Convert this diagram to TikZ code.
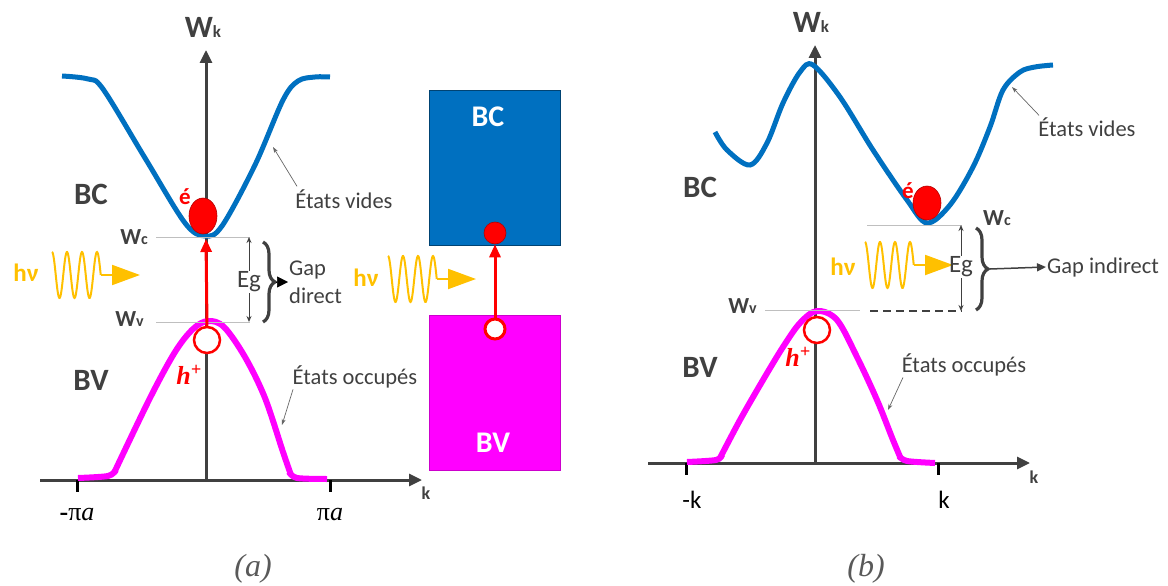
\documentclass[tikz,border=0pt]{standalone}
\usepackage{fontspec}
\setmainfont{Carlito}
\newfontfamily\serifgr{Liberation Serif}
\usetikzlibrary{arrows.meta,positioning,shapes.geometric,decorations.pathreplacing}
\definecolor{cAxis}{HTML}{404040}
\definecolor{cBC}  {HTML}{0070C0}
\definecolor{cBV}  {HTML}{FF00FF}
\definecolor{cRed} {HTML}{FF0000}
\definecolor{cPhot}{HTML}{FFC000}
\definecolor{cLvl} {HTML}{BFBFBF}
\newcommand\fsz[1]{\fontsize{#1}{#1}\selectfont}
\tikzset{
  axis/.style  ={draw=cAxis,line width=3pt,-{Triangle[length=13pt,width=12pt]}},
  tck/.style   ={draw=black,line width=3pt},
  bandc/.style ={draw=cBC,line width=5pt},
  bandv/.style ={draw=cBV,line width=6pt},
  lvl/.style   ={draw=cLvl,line width=1pt},
  elec/.style  ={ellipse,fill=cRed,draw=cRed!70!black,line width=0.6pt,
                 minimum width=28pt,minimum height=36pt,inner sep=0pt},
  hole/.style  ={circle,fill=white,draw=cRed,line width=2.5pt,
                 minimum size=26pt,inner sep=0pt},
  exc/.style   ={draw=cRed,line width=3pt,-{Triangle[length=13pt,width=11pt]}},
  ptr/.style   ={draw=black!60,line width=0.7pt,-{Stealth[length=6pt,width=4pt]}},
  egarr/.style ={draw=cAxis,line width=1pt,-{Stealth[length=6pt,width=5pt]}},
  brc/.style   ={draw=cAxis,line width=3.2pt,decorate,decoration={brace,amplitude=12pt}},
  phot/.style  ={draw=cPhot,line width=2pt},
  photarr/.style={draw=cPhot,line width=2pt,-{Triangle[length=28pt,width=20pt]}},
  txt/.style   ={text=cAxis,font=\fsz{22.5},inner sep=1pt},
  bnd/.style   ={text=cAxis,font=\fsz{31}\bfseries,inner sep=1pt},
  lev/.style   ={text=cAxis,font=\fsz{23}\bfseries,inner sep=1pt},
  hnu/.style   ={text=cPhot,font=\fsz{25}\bfseries,inner sep=1pt},
  eltxt/.style ={text=cRed,font=\fsz{23}\bfseries,inner sep=1pt},
  boxlbl/.style={text=white,font=\fsz{30}\bfseries,inner sep=1pt},
  figcap/.style={text=black!65,font=\serifgr\itshape\fsz{32},inner sep=1pt},
}
\begin{document}
\begin{tikzpicture}[x=1pt,y=-1pt]
\useasboundingbox (0,0) rectangle (1168,586);

% ---------- (a) direct gap ----------
\coordinate (kA0) at (40,480);  \coordinate (kA1) at (422,480);
\coordinate (oA)  at (206,480); \coordinate (wA)  at (206,50);
\draw[axis] (kA0) -- (kA1);
\draw[axis] (oA) -- (wA);
\node[text=cAxis,font=\fsz{18}\bfseries] (kA) at (426,493) {k};
\node[bnd] (wkA) at (203,27) {W{\fsz{17}k}};
\foreach \x/\t [count=\i] in {77/{{\bfseries -}π\itshape a},330/{π\itshape a}}
  {\coordinate (tA\i) at (\x,480);
   \draw[tck] (tA\i) -- ++(0,12);
   \node[text=black,font=\serifgr\fsz{26}] at (\x,515) {\t};}

\draw[bandc] plot[smooth,tension=0.55] coordinates {(62,76) (88,79) (103,89) (145,158)
  (185,223) (205,236) (222,226) (255,165) (283,100) (298,81) (315,77) (330,77)};
\draw[bandv] plot[smooth,tension=0.5] coordinates {(78,478) (108,476) (116,470)};
\draw[bandv] plot[smooth,tension=0.55] coordinates {(114,473) (150,398) (175,352)
  (193,329) (208,321) (224,327) (245,357) (265,398) (283,452) (291,475)};
\draw[bandv] plot[smooth,tension=0.5] coordinates {(289,472) (297,478) (327,479)};

\node[lev,anchor=east] (wcA) at (149,237) {W{\fsz{16}c}};
\node[lev,anchor=east] (wvA) at (145,319) {W{\fsz{16}v}};
\coordinate (wcAe) at (250,237); \coordinate (wvAe) at (250,322);
\draw[lvl] ([xshift=7pt]wcA.east) -- (wcAe);
\draw[lvl] ([xshift=11pt]wvA.east |- wvAe) -- (wvAe);

\node[elec] (eA) at (203,216) {};
\node[eltxt,anchor=east] at (192,197) {é};
\node[hole] (hA) at (207,340) {};
\coordinate (cA) at (206,239);
\draw[exc] (hA.north) -- (cA);
\node[eltxt,font=\serifgr\bfseries\itshape\fsz{26}] at (189,375) {h\textsuperscript{+}};

\node[bnd] (bcA) at (91,194) {BC};
\node[bnd] (bvA) at (91,380) {BV};
\node[txt] (vidA) at (344,199) {États vides};
\coordinate (vidAp) at (273,147);
\draw[ptr] ([xshift=-47pt,yshift=2pt]vidA.north) -- (vidAp);
\node[txt] (occA) at (355,377) {États occupés};
\coordinate (occAp) at (282,425);
\draw[ptr] ([xshift=-62pt]occA.south) -- (occAp);

\node[txt,font=\fsz{25}] (egA) at (249,282) {Eg};
\draw[egarr] (egA.north) -- (egA.north |- wcAe);
\draw[egarr] (egA.south) -- (egA.south |- wvAe);
\draw[brc] (263,242) -- (263,322);
\coordinate (bA) at (276,282);
\node[txt,anchor=west,align=left,font=\fsz{22.5}\linespread{1.25}\selectfont] (gapA) at (288,282) {Gap\\direct};
\draw[black,line width=0.5pt,-{Triangle[length=11pt,width=11pt]}] (bA) -- (gapA.west);

% ---------- photons ----------
\foreach \px/\py/\lx/\ly/\nm in {52/275/26/273/pA, 388/279/366/278/pM, 865/265/843/267/pB}
  {\node[hnu] (\nm) at (\lx,\ly) {hν};
   \draw[phot] plot[domain=0:48.75,samples=120] ({\px+\x},{\py-23*cos(\x*24)});
   \coordinate (\nm0) at (\px+48.75,\py);
   \coordinate (\nm1) at (\px+88,\py);
   \draw[photarr] (\nm0) -- (\nm1);}

% ---------- band blocks ----------
\node[draw=cBC!60!black,fill=cBC,minimum width=131pt,minimum height=155pt,
      anchor=north west,inner sep=0pt] (bcR) at (429,90) {};
\node[draw=cBV!80!black,fill=cBV,minimum width=131pt,minimum height=155pt,
      anchor=north west,inner sep=0pt] (bvR) at (429,315) {};
\node[boxlbl] (bcRt) at (488,117) {BC};
\node[boxlbl] (bvRt) at (493,443) {BV};
\node[circle,fill=cRed,draw=cRed!70!black,line width=0.6pt,minimum size=22pt,inner sep=0pt] (eR) at (495,233) {};
\node[hole,minimum size=20pt,line width=3pt] (hR) at (495,329) {};
\draw[exc] (hR.north) -- (eR.south);

% ---------- (b) indirect gap ----------
\coordinate (kB0) at (648,463); \coordinate (kB1) at (1030,463);
\coordinate (oB)  at (815,463); \coordinate (wB)  at (815,45);
\draw[axis] (kB0) -- (kB1);
\draw[axis] (oB) -- (wB);
\node[text=cAxis,font=\fsz{18}\bfseries] (kB) at (1034,477) {k};
\node[bnd] (wkB) at (811,22) {W{\fsz{17}k}};
\foreach \x/\t [count=\i] in {686/-k,938/k}
  {\coordinate (tB\i) at (\x,463);
   \draw[tck] (tB\i) -- ++(0,12);
   \node[text=black,font=\fsz{25}] at (\x+6,500) {\t};}

\draw[bandc] plot[smooth,tension=0.55] coordinates {(715,132) (727,150) (750,165)
  (767,143) (783,103) (800,72) (813,65) (840,97) (873,150) (907,200) (927,223)
  (950,205) (973,167) (990,127) (1003,90) (1020,72) (1035,67) (1053,65)};
\draw[bandv] plot[smooth,tension=0.5] coordinates {(687,462) (716,460) (722,455)};
\draw[bandv] plot[smooth,tension=0.55] coordinates {(720,458) (740,420) (763,380)
  (783,347) (800,323) (817,311) (837,320) (857,357) (877,400) (893,440) (901,459)};
\draw[bandv] plot[smooth,tension=0.5] coordinates {(899,456) (907,461) (935,463)};

\node[lev] (wcB) at (997,218) {W{\fsz{16}c}};
\node[lev,anchor=east] (wvB) at (758,306) {W{\fsz{16}v}};
\coordinate (wcB0) at (867,225); \coordinate (wcBe) at (962,225);
\coordinate (wvBe) at (860,310); \coordinate (wvBd) at (870,311); \coordinate (wvBf) at (962,311);
\draw[lvl] (wcB0) -- (wcBe);
\draw[lvl] ([xshift=7pt]wvB.east |- wvBe) -- (wvBe);
\draw[cAxis,line width=1.5pt,dash pattern=on 8pt off 5pt] (wvBd) -- (wvBf);

\node[elec,minimum height=34pt] (eB) at (927,203) {};
\node[eltxt,anchor=east] at (915,191) {é};
\node[hole] (hB) at (817,330) {};
\node[eltxt,font=\serifgr\bfseries\itshape\fsz{26}] at (798,357) {h\textsuperscript{+}};

\node[bnd] (bcB) at (700,187) {BC};
\node[bnd] (bvB) at (700,367) {BV};
\node[txt] (vidB) at (1087,127) {États vides};
\coordinate (vidBp) at (1012,87);
\draw[ptr] ([xshift=-48pt,yshift=1pt]vidB.north) -- (vidBp);
\node[txt] (occB) at (964,365) {États occupés};
\coordinate (occBp) at (888,410);
\draw[ptr] ([xshift=-61pt]occB.south) -- (occBp);

\node[txt,font=\fsz{25}] (egB) at (961,267) {Eg};
\draw[egarr] (egB.north) -- (egB.north |- wcBe);
\draw[egarr] (egB.south) -- (egB.south |- wvBf);
\draw[brc] (976,228) -- (976,310);
\coordinate (bB) at (990,269);
\node[txt,anchor=west] (gapB) at (1046,267) {Gap indirect};
\draw[cAxis,line width=1.5pt,-{Triangle[length=9pt,width=8pt]}] (bB) -- (gapB.west);

\node[figcap] (capA) at (253,569) {(a)};
\node[figcap] (capB) at (866,569) {(b)};
\end{tikzpicture}
\end{document}
